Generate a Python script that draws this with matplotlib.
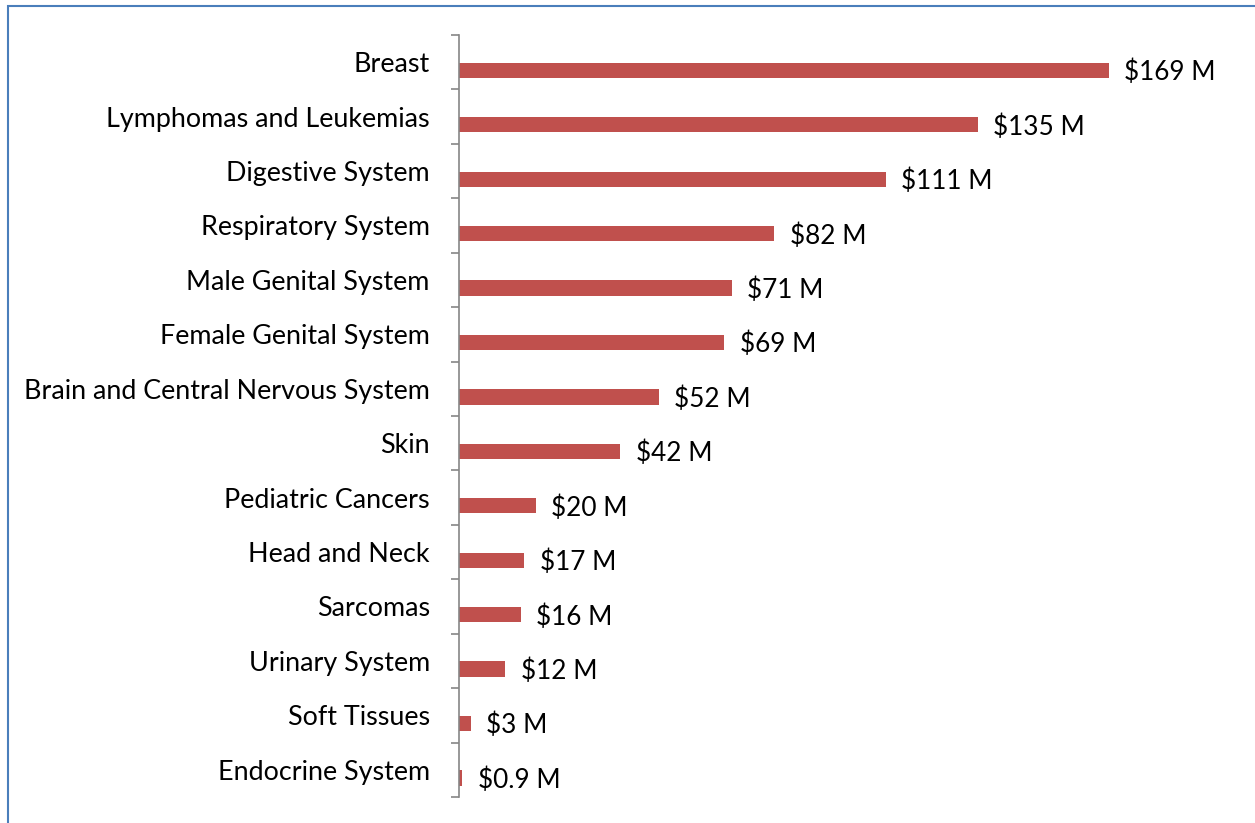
import matplotlib.pyplot as plt
from matplotlib.patches import Rectangle
from matplotlib.ticker import FixedLocator

# Funding by cancer site (millions of dollars)
categories = ['Breast', 'Lymphomas and Leukemias', 'Digestive System',
              'Respiratory System', 'Male Genital System', 'Female Genital System',
              'Brain and Central Nervous System', 'Skin', 'Pediatric Cancers',
              'Head and Neck', 'Sarcomas', 'Urinary System', 'Soft Tissues',
              'Endocrine System']
values = [169, 135, 111, 82, 71, 69, 52, 42, 20, 17, 16, 12, 3, 0.9]
value_labels = ['$169 M', '$135 M', '$111 M', '$82 M', '$71 M', '$69 M', '$52 M',
                '$42 M', '$20 M', '$17 M', '$16 M', '$12 M', '$3 M', '$0.9 M']

plt.rcParams['font.family'] = ['Lato', 'DejaVu Sans']

fig = plt.figure(figsize=(12.55, 8.23), dpi=100)
ax = fig.add_axes([459 / 1255, 1 - 797 / 823, 769 / 1255, 762 / 823])

n = len(categories)
pos = list(range(n))
bar_pos = [p + 0.15 for p in pos]
ax.barh(bar_pos, values, height=0.28, color='#C0504D')

for y, v, lab in zip(bar_pos, values, value_labels):
    ax.text(v + 4, y + 0.04, lab, va='center', ha='left', fontsize=18.8, color='black')

ax.set_xlim(0, 200)
ax.set_ylim(n - 0.5, -0.5)
ax.set_yticks(pos)
ax.set_yticklabels(categories, fontsize=19.4)
ax.yaxis.set_minor_locator(FixedLocator([p - 0.5 for p in range(n + 1)]))
ax.tick_params(axis='y', which='major', length=0, pad=21)
ax.tick_params(axis='y', which='minor', length=6, color='#868686', width=1.2)
ax.set_xticks([])
for s in ['top', 'right', 'bottom']:
    ax.spines[s].set_visible(False)
ax.spines['left'].set_color('#868686')
ax.spines['left'].set_linewidth(1.2)

# thin blue frame round the chart area
fig.patches.append(Rectangle((8 / 1255, -0.1), 1.2, 1 - 6 / 823 + 0.1,
                             transform=fig.transFigure, fill=False,
                             edgecolor='#4A7EBB', linewidth=1.5))

fig.savefig('out.png', dpi=100)
